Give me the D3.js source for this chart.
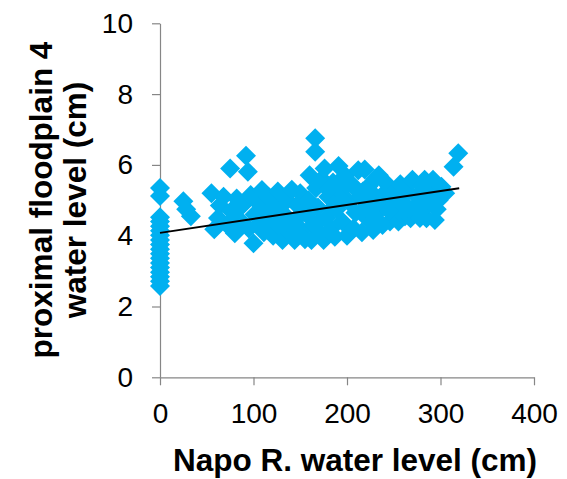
<!DOCTYPE html>
<html>
<head>
<meta charset="utf-8">
<script src="https://cdn.jsdelivr.net/npm/d3@7"></script>
<style>
  html, body { margin: 0; padding: 0; background: #fff; }
  svg { display: block; font-family: "Liberation Sans", Arial, sans-serif; }
</style>
</head>
<body>
<div id="chart"></div>
<script>
// Napo R. water level (cm)
const napoLevel = [
  0, 0, 0, 0, 0, 0, 0, 0, 0, 0, 0, 0, 0, 0, 0, 0, 0, 0,
  25, 28, 33,
  55, 58, 62, 64, 68, 72, 75, 76, 80, 82, 85, 88, 92, 94, 95, 97,
  100, 101, 104, 106, 109, 111, 113, 116, 118, 121, 123, 126, 128,
  131, 133, 136, 139, 141, 144, 145, 147, 150, 152, 155, 157, 159,
  160, 162, 164, 166, 166, 167, 169, 171, 173, 175, 176, 178, 180,
  183, 185, 187, 189, 191, 193, 195, 198, 200, 202, 205, 207, 209,
  212, 214, 216, 219, 221, 223, 225, 228, 230, 232, 234, 236, 238,
  241, 243, 246, 249, 252, 255, 257, 259, 262, 265, 268, 270, 272,
  275, 278, 280, 283, 285, 287, 290, 292, 294, 296, 298, 301, 305,
  314, 319,
  115, 125, 135, 150, 160, 170, 180, 185, 195, 200, 210, 220, 227,
  230, 240, 245, 255, 260, 265, 275, 285, 248, 217, 190
];

// proximal floodplain 4 water level (cm), same order
const floodplainLevel = [
  5.35, 5.12, 4.52, 4.40, 4.27, 4.14, 4.01, 3.88, 3.75, 3.62, 3.49, 3.36, 3.23, 3.10, 2.97, 2.84, 2.71, 2.58,
  4.97, 4.75, 4.55,
  5.20, 4.18, 4.50, 4.85, 5.10, 4.30, 5.90, 4.70, 4.07, 5.05, 4.45, 4.85, 6.26, 5.81, 4.20, 5.15,
  3.79, 4.60, 4.95, 4.30, 5.29, 4.10, 4.75, 5.10, 4.40, 4.00, 4.85, 5.25, 4.25,
  3.88, 4.60, 5.00, 4.10, 5.30, 3.88, 4.45, 4.85, 5.20, 4.15, 3.90, 4.60, 5.00,
  5.71, 3.88, 4.30, 6.75, 6.37, 5.35, 4.80, 4.05, 5.60, 3.88, 5.90, 4.50, 5.10,
  4.20, 5.50, 3.97, 4.75, 5.97, 5.25, 4.40, 5.70, 4.00, 4.95, 5.45, 4.20, 4.65,
  5.85, 5.10, 4.10, 5.87, 4.50, 5.40, 4.90, 4.16, 5.60, 4.65, 5.71, 5.10, 4.30,
  4.85, 5.45, 4.40, 5.20, 4.70, 4.40, 5.45, 4.95, 4.55, 5.25, 4.49, 5.58, 4.80,
  5.10, 4.50, 5.40, 5.58, 4.49, 4.90, 5.20, 5.58, 4.44, 4.75, 5.00, 5.38, 5.20,
  5.95, 6.33,
  4.55, 4.50, 4.40, 4.60, 4.70, 4.40, 5.30, 4.80, 5.00, 5.50, 5.30, 4.80, 5.20,
  4.40, 5.10, 4.70, 5.00, 5.20, 4.80, 4.75, 5.20, 5.00, 5.25, 5.45
];

// linear trendline ends
const trendX = [0, 320];
const trendY = [4.08, 5.34];

const xTicks = [0, 100, 200, 300, 400];
const yTicks = [0, 2, 4, 6, 8, 10];

const xTitle = "Napo R. water level (cm)";
const yTitleLines = ["proximal floodplain 4", "water level (cm)"];

const width = 567;
const height = 479;
const axisColor = "#868686";
const pointColor = "#00b0f0";

const svg = d3.select("#chart")
  .append("svg")
  .attr("width", width)
  .attr("height", height);

const x = d3.scaleLinear().domain([0, 400]).range([160, 534]);
const y = d3.scaleLinear().domain([0, 10]).range([377.3, 23.3]);

const xAxis = d3.axisBottom(x)
  .tickValues(xTicks)
  .tickSizeInner(8)
  .tickSizeOuter(0)
  .tickPadding(18);

const yAxis = d3.axisLeft(y)
  .tickValues(yTicks)
  .tickSizeInner(8)
  .tickSizeOuter(0)
  .tickPadding(19);

const gx = svg.append("g")
  .attr("transform", "translate(0," + y(0) + ")")
  .call(xAxis);

const gy = svg.append("g")
  .attr("transform", "translate(" + x(0) + ",0)")
  .call(yAxis);

[gx, gy].forEach(g => {
  g.selectAll("path.domain, line")
    .attr("stroke", axisColor)
    .attr("stroke-width", 1.2);
  g.selectAll("text")
    .attr("fill", "#000")
    .style("font-size", "28px")
    .style("font-family", "'Liberation Sans', Arial, sans-serif");
});

// points
const points = napoLevel.map((v, i) => [v, floodplainLevel[i]]);
const diamond = d3.symbol().type(d3.symbolSquare).size(200);

svg.append("g")
  .selectAll("path")
  .data(points)
  .enter()
  .append("path")
  .attr("d", diamond)
  .attr("transform", d => "translate(" + x(d[0]) + "," + y(d[1]) + ") rotate(45)")
  .attr("fill", pointColor);

// trendline
svg.append("path")
  .datum(trendX.map((v, i) => [v, trendY[i]]))
  .attr("d", d3.line().x(d => x(d[0])).y(d => y(d[1])))
  .attr("fill", "none")
  .attr("stroke", "#000")
  .attr("stroke-width", 2);

// axis titles
svg.append("text")
  .attr("x", 355)
  .attr("y", 471)
  .attr("text-anchor", "middle")
  .style("font-size", "31.5px")
  .style("font-weight", "bold")
  .text(xTitle);

yTitleLines.forEach((line, i) => {
  svg.append("text")
    .attr("transform", "translate(" + (52 + i * 34) + ",200) rotate(-90)")
    .attr("text-anchor", "middle")
    .style("font-size", "31.5px")
    .style("font-weight", "bold")
    .text(line);
});
</script>
</body>
</html>
